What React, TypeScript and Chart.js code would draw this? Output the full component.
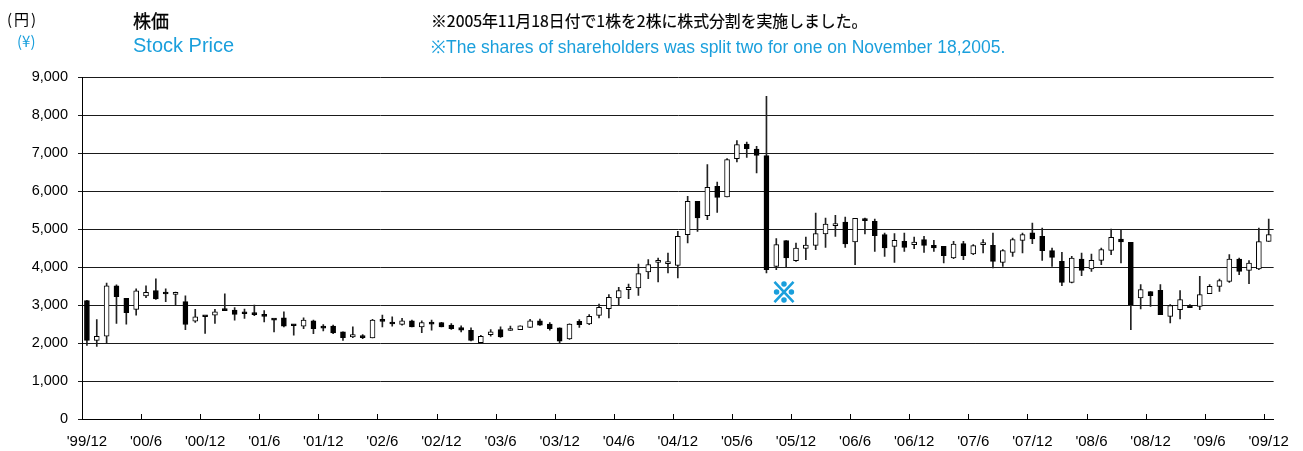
import React, { useEffect, useRef } from "react";
import { Chart, registerables } from "chart.js";

Chart.register(...registerables);

// Monthly candles, 1999/12 .. 2009/12 (121 months)
const opens = [
  3115, 2071, 2177, 3504, 3177, 2885, 3239, 3381, 3320, 3280, 3088, 2575,
  2710, 2735, 2880, 2867, 2800, 2770, 2730, 2630, 2664, 2480, 2442, 2584,
  2420, 2442, 2292, 2159, 2195, 2133, 2600, 2525, 2487, 2584, 2425, 2525,
  2540, 2470, 2407, 2336, 2009, 2221, 2354, 2330, 2354, 2407, 2584, 2496,
  2400, 2105, 2570, 2500, 2728, 2904, 3184, 3404, 3447, 3869, 4120, 4090,
  4044, 4851, 5728, 5351, 6123, 5842, 6851, 7237, 7105, 6930, 4018, 4693,
  4167, 4491, 4570, 4868, 5090, 5184, 4658, 5250, 5202, 4851, 4544, 4675,
  4588, 4719, 4570, 4544, 4237, 4614, 4342, 4590, 4570, 4123, 4386, 4702,
  4900, 4807, 4430, 4149, 3596, 4210, 3947, 4175, 4439, 4737, 4649, 3184,
  3351, 3386, 2702, 2877, 2960, 2965, 3298, 3491, 3623, 4211, 3912, 3947,
  4675,
];
const highs = [
  3120, 2619, 3575, 3531, 3177, 3425, 3504, 3690, 3425, 3340, 3239, 2885,
  2710, 2885, 3292, 2929, 2894, 3000, 2850, 2630, 2823, 2487, 2664, 2602,
  2487, 2469, 2292, 2425, 2221, 2620, 2735, 2690, 2646, 2600, 2584, 2602,
  2545, 2513, 2451, 2398, 2204, 2354, 2425, 2442, 2451, 2620, 2628, 2540,
  2400, 2506, 2619, 2746, 3026, 3272, 3465, 3553, 4079, 4193, 4237, 4368,
  4939, 5860, 5728, 6693, 6237, 6851, 7325, 7289, 7175, 8491, 4746, 4693,
  4632, 4789, 5421, 5289, 5360, 5316, 5281, 5289, 5263, 4895, 4877, 4895,
  4789, 4807, 4702, 4544, 4675, 4675, 4588, 4719, 4895, 4456, 4763, 4895,
  5158, 5026, 4500, 4386, 4281, 4368, 4342, 4500, 5000, 4965, 4649, 3535,
  3351, 3535, 3009, 3377, 3009, 3754, 3535, 3684, 4325, 4237, 4167, 5026,
  5263,
];
const lows = [
  1938, 1911, 2000, 2513, 2496, 2735, 3195, 3150, 3088, 3000, 2354, 2540,
  2250, 2513, 2850, 2602, 2646, 2717, 2558, 2292, 2425, 2204, 2380, 2248,
  2319, 2248, 2071, 2142, 2115, 2133, 2425, 2442, 2469, 2420, 2274, 2336,
  2420, 2360, 2292, 2053, 2009, 2177, 2150, 2330, 2350, 2407, 2460, 2336,
  2005, 2092, 2412, 2482, 2658, 2658, 3009, 3167, 3254, 3693, 3605, 3842,
  3711, 4632, 4939, 5246, 5439, 5842, 6763, 6886, 6474, 3842, 3930, 3991,
  4149, 4193, 4456, 4518, 4807, 4518, 4061, 4868, 4412, 4281, 4123, 4412,
  4482, 4386, 4412, 4105, 4219, 4193, 4325, 4368, 3974, 4018, 4281, 4368,
  4614, 4175, 4018, 3509, 3579, 3772, 3886, 4061, 4325, 4105, 2351, 2895,
  2965, 2746, 2526, 2632, 2939, 2877, 3298, 3360, 3596, 3798, 3561, 3930,
  4675,
];
const closes = [
  2071, 2177, 3504, 3221, 2796, 3372, 3336, 3159, 3290, 3336, 2487, 2690,
  2690, 2823, 2850, 2752, 2770, 2745, 2700, 2600, 2442, 2455, 2602, 2380,
  2390, 2265, 2142, 2221, 2142, 2602, 2570, 2500, 2584, 2425, 2540, 2495,
  2425, 2380, 2336, 2071, 2177, 2292, 2159, 2360, 2451, 2584, 2469, 2380,
  2050, 2500, 2482, 2702, 2939, 3202, 3377, 3465, 3825, 4061, 4140, 4110,
  4807, 5728, 5289, 6096, 5833, 6825, 7219, 7114, 6939, 3930, 4588, 4237,
  4500, 4579, 4877, 5132, 5120, 4605, 5281, 5220, 4825, 4500, 4702, 4518,
  4658, 4570, 4500, 4298, 4605, 4298, 4561, 4620, 4149, 4430, 4719, 4851,
  4740, 4430, 4254, 3596, 4237, 3912, 4175, 4456, 4781, 4658, 3009, 3404,
  3246, 2746, 2982, 3140, 2930, 3272, 3491, 3640, 4211, 3886, 4105, 4667,
  4851,
];

const tickLabels = [
  "'99/12", "'00/6", "'00/12", "'01/6", "'01/12", "'02/6", "'02/12",
  "'03/6", "'03/12", "'04/6", "'04/12", "'05/6", "'05/12", "'06/6",
  "'06/12", "'07/6", "'07/12", "'08/6", "'08/12", "'09/6", "'09/12",
];

const yTicks = [0, 1000, 2000, 3000, 4000, 5000, 6000, 7000, 8000, 9000];

const months: string[] = [];
{
  let y = 1999;
  let m = 12;
  while (months.length < opens.length) {
    months.push(`${y}/${m}`);
    m += 1;
    if (m > 12) {
      m = 1;
      y += 1;
    }
  }
}

const CYAN = "#1a9fdc";
const LATIN = "'Liberation Sans', Arial, sans-serif";
const CJK = "'Noto Sans CJK JP', 'Noto Sans', sans-serif";

const tickMarks = {
  id: "tickMarks",
  afterDraw(chart: any) {
    const x = chart.scales.x;
    const { ctx } = chart;
    const bottom = chart.chartArea.bottom;
    const half = (x.getPixelForValue(1) - x.getPixelForValue(0)) / 2;
    ctx.save();
    ctx.strokeStyle = "#000";
    ctx.lineWidth = 1;
    ctx.beginPath();
    for (let i = 6; i < months.length; i += 6) {
      const px = Math.round(x.getPixelForValue(i) - half) + 0.5;
      ctx.moveTo(px, bottom);
      ctx.lineTo(px, bottom - 5);
    }
    ctx.stroke();
    ctx.restore();
  },
};

export default function App() {
  const ref = useRef<HTMLCanvasElement | null>(null);

  useEffect(() => {
    if (!ref.current) return;
    const chart = new Chart(ref.current, {
      type: "bar",
      data: {
        labels: months,
        datasets: [
          {
            label: "wick",
            data: lows.map((l, i) => [l, highs[i]]),
            backgroundColor: "#222",
            borderWidth: 0,
            barThickness: 1,
            grouped: false,
            order: 2,
          } as any,
          {
            label: "body",
            data: opens.map((o, i) => [o, closes[i]]),
            backgroundColor: opens.map((o, i) => (closes[i] >= o ? "#fff" : "#000")),
            borderColor: "#000",
            borderWidth: 1,
            borderSkipped: false,
            barThickness: 5,
            minBarLength: 2,
            grouped: false,
            order: 1,
          } as any,
        ],
      },
      options: {
        animation: false,
        responsive: false,
        maintainAspectRatio: false,
        layout: { padding: { left: 0, right: 22, top: 77, bottom: 0 } },
        plugins: {
          legend: { display: false },
          tooltip: { enabled: false },
        },
        scales: {
          x: {
            offset: true,
            grid: { display: true, drawOnChartArea: false, drawTicks: false, offset: true },
            border: { display: true, color: "#000", width: 1 },
            ticks: {
              autoSkip: false,
              maxRotation: 0,
              minRotation: 0,
              padding: 14,
              color: "#000",
              font: { family: LATIN, size: 15 },
              callback: (_v: any, idx: number) => (idx % 6 === 0 ? tickLabels[idx / 6] : ""),
            },
            afterFit: (s: any) => {
              s.height = 32;
            },
          },
          y: {
            min: yTicks[0],
            max: yTicks[yTicks.length - 1],
            afterBuildTicks: (s: any) => {
              s.ticks = yTicks.map((v) => ({ value: v }));
            },
            ticks: {
              padding: 10,
              color: "#000",
              font: { family: LATIN, size: 14.5 },
            },
            grid: { color: "#1a1a1a", lineWidth: 1, tickLength: 4, drawTicks: true },
            border: { display: true, color: "#000", width: 1 },
            afterFit: (s: any) => {
              s.width = 82;
            },
          },
        },
      },
      plugins: [tickMarks],
    });
    return () => chart.destroy();
  }, []);

  const abs = (extra: React.CSSProperties): React.CSSProperties => ({
    position: "absolute",
    whiteSpace: "nowrap",
    lineHeight: 1,
    margin: 0,
    ...extra,
  });

  return (
    <div style={{ position: "absolute", left: 0, top: 0, width: 1303, height: 451, background: "#fff", overflow: "hidden" }}>
      <canvas ref={ref} width={1303} height={451} style={{ position: "absolute", left: 0, top: 0, width: 1303, height: 451 }} />
      <div style={abs({ left: 7, top: 11, fontFamily: CJK, fontSize: 15, letterSpacing: 2, color: "#000" })}>(円)</div>
      <div style={abs({ left: 17, top: 33, fontFamily: CJK, fontSize: 15, color: CYAN })}>(¥)</div>
      <div style={abs({ left: 133, top: 11, fontFamily: CJK, fontSize: 18, color: "#000", WebkitTextStroke: "0.3px #000" } as any)}>株価</div>
      <div style={abs({ left: 133, top: 35, fontFamily: LATIN, fontSize: 20, color: CYAN })}>Stock Price</div>
      <div style={abs({ left: 431, top: 12, fontFamily: CJK, fontSize: 16, color: "#000", transform: "scaleX(0.99)", transformOrigin: "left top", WebkitTextStroke: "0.2px #000" } as any)}>
        ※2005年11月18日付で1株を2株に株式分割を実施しました。
      </div>
      <div style={abs({ left: 431, top: 38.5, fontFamily: LATIN, fontSize: 17.5, color: CYAN })}>
        ※The shares of shareholders was split two for one on November 18,2005.
      </div>
      <div style={abs({ left: 771, top: 278, fontFamily: CJK, fontSize: 26, fontWeight: 700, color: CYAN, WebkitTextStroke: `1.6px ${CYAN}` } as any)}>※</div>
    </div>
  );
}
